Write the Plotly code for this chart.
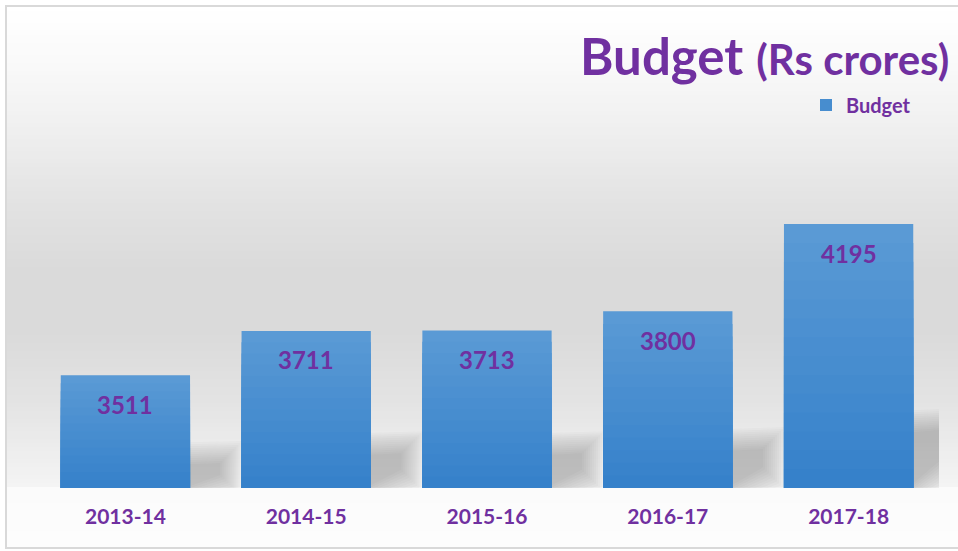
import plotly.graph_objects as go

# ---- data ----
years = ["2013-14", "2014-15", "2015-16", "2016-17", "2017-18"]
budget = [3511, 3711, 3713, 3800, 4195]
series_name = "Budget"
title_main = "Budget"
title_unit = "(Rs crores)"

PURPLE = "#7030a0"
BAR_TOP = (91, 155, 213)
BAR_BOTTOM = (53, 128, 202)
FONT = "Lato"

W, H = 958, 551
L, R, T, B = 35, 19, 160, 63
Y0, Y1 = 3000, 4485
plot_h = H - T - B
plot_w = W - L - R
UNITS_PER_PX = (Y1 - Y0) / plot_h
CAT_PX = plot_w / len(years)

def py(pix):
    return (H - B - pix) / plot_h

def px(pix):
    return (pix - L) / plot_w

fig = go.Figure()
# bars with vertical gradient: overlaid bands, lightest (full height) first
N = 14
for k in range(N):
    f = 1 - k / N
    t = f - 0.5 / N
    c = tuple(int(round(BAR_BOTTOM[j] + (BAR_TOP[j] - BAR_BOTTOM[j]) * t)) for j in range(3))
    fig.add_trace(go.Bar(
        x=years, y=[Y0 + (v - Y0) * f for v in budget], name=series_name,
        marker=dict(color=f"rgb{c}", line=dict(width=0)),
        showlegend=(k == N // 2), hoverinfo="skip" if k else None,
    ))

shapes = []
# background vertical gradient
stops = [(7, 255), (60, 250), (120, 241), (200, 227), (270, 218), (330, 218),
         (400, 227), (450, 237), (487, 244), (489, 251), (547, 253)]

def gray_at(yp):
    for (a, ga), (b, gb) in zip(stops[:-1], stops[1:]):
        if a <= yp <= b:
            t = (yp - a) / (b - a) if b > a else 0
            return ga + (gb - ga) * t
    return stops[-1][1]

step = 4
yp = 7
while yp < 547:
    y2 = min(yp + step, 547)
    g = int(round(gray_at((yp + y2) / 2)))
    shapes.append(dict(type="rect", xref="paper", yref="paper",
                       x0=px(7), x1=px(960), y0=py(y2), y1=py(yp),
                       fillcolor=f"rgb({g},{g},{g})", line=dict(width=0),
                       layer="below"))
    yp = y2

# soft shadows to the right of each bar base (layered for blur)
half = 0.357
for i, v in enumerate(budget):
    h = 0.21 * (v - Y0)
    xr = i + half - 0.03
    w = 36 / CAT_PX
    for e in range(0, 24, 2):
        ex = e / CAT_PX
        ey = e * UNITS_PER_PX
        path = (f"M {xr},{Y0 - ey} L {xr},{Y0 + h + ey} "
                f"L {xr + w + ex},{Y0 + h*1.05 + ey} "
                f"L {xr + w + ex},{Y0 + h*0.55 - ey} Z")
        shapes.append(dict(type="path", xref="x", yref="y", path=path,
                           fillcolor="rgba(80,80,80,0.028)",
                           line=dict(width=0), layer="below"))

# outer border
shapes.append(dict(type="rect", xref="paper", yref="paper",
                   x0=px(6), x1=px(962), y0=py(548), y1=py(6),
                   line=dict(color="#d9d9d9", width=2), fillcolor="rgba(0,0,0,0)",
                   layer="above"))

annotations = []
for x, v in zip(years, budget):
    annotations.append(dict(x=x, y=v, xref="x", yref="y", text=f"<b>{v}</b>",
                            showarrow=False, yshift=-29, yanchor="middle",
                            font=dict(family=FONT, size=24, color=PURPLE)))

annotations.append(dict(
    xref="paper", yref="paper", x=px(951), y=py(55), xanchor="right", yanchor="middle",
    text=f"<b>{title_main}</b> <span style='font-size:42px'><b>{title_unit}</b></span>",
    showarrow=False, font=dict(family=FONT, size=51, color=PURPLE)))

fig.update_layout(
    width=W, height=H,
    margin=dict(l=L, r=R, t=T, b=B, autoexpand=False),
    paper_bgcolor="white", plot_bgcolor="rgba(0,0,0,0)",
    barmode="overlay", bargap=0.285,
    shapes=shapes, annotations=annotations,
    showlegend=True,
    legend=dict(x=px(806), y=py(105), xanchor="left", yanchor="middle",
                bgcolor="rgba(0,0,0,0)",
                font=dict(family=FONT, size=20, color=PURPLE, weight="bold")),
    xaxis=dict(range=[-0.5, len(years) - 0.5], showgrid=False, showline=False,
               zeroline=False, ticks="outside", ticklen=10, tickcolor="rgba(0,0,0,0)",
               tickfont=dict(family=FONT, size=21, color=PURPLE, weight="bold")),
    yaxis=dict(range=[Y0, Y1], visible=False, showgrid=False),
)

fig.write_html("out.html", config={"displayModeBar": False},
               post_script="document.body.style.margin='0';document.body.style.overflow='hidden';")
